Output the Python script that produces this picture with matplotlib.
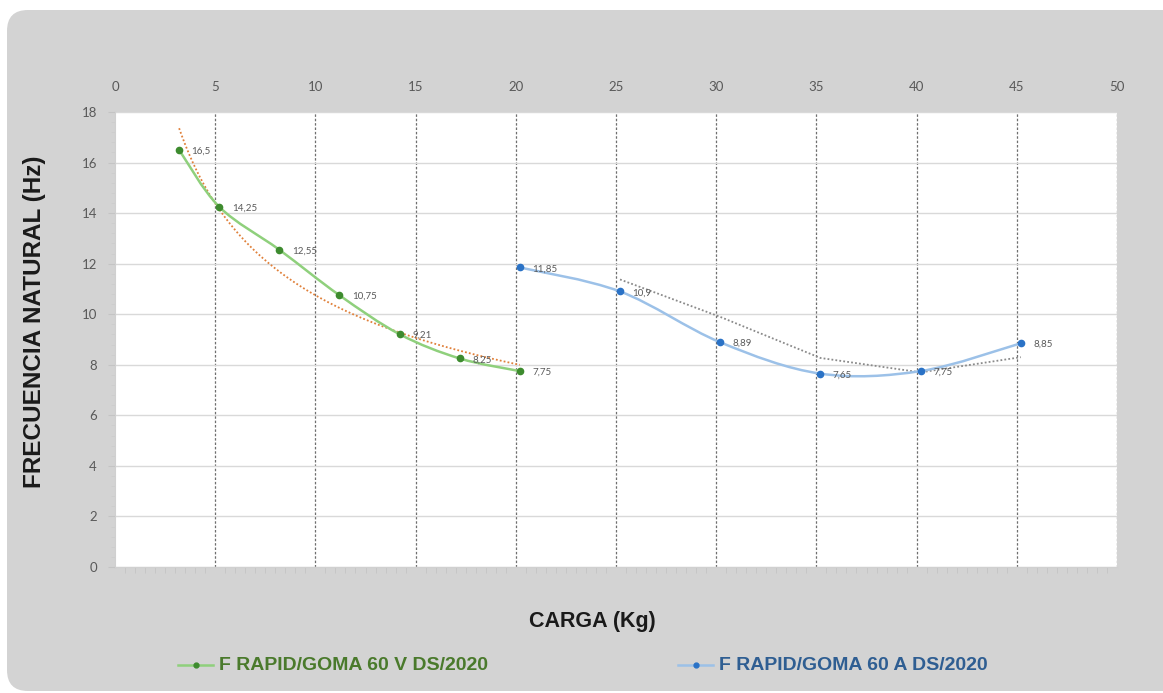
import numpy as np
import pandas as pd
from matplotlib import pyplot as plt
from matplotlib.patches import FancyBboxPatch
from matplotlib.path import Path
from matplotlib.patches import PathPatch
from matplotlib.ticker import MultipleLocator

# datos
carga_v = [3.2, 5.2, 8.2, 11.2, 14.2, 17.2, 20.2]
frec_v = [16.5, 14.25, 12.55, 10.75, 9.21, 8.25, 7.75]
etiq_v = ['16,5', '14,25', '12,55', '10,75', '9,21', '8,25', '7,75']

carga_a = [20.2, 25.2, 30.2, 35.2, 40.2, 45.2]
frec_a = [11.85, 10.9, 8.89, 7.65, 7.75, 8.85]
etiq_a = ['11,85', '10,9', '8,89', '7,65', '7,75', '8,85']

nombre_v = 'F RAPID/GOMA 60 V DS/2020'
nombre_a = 'F RAPID/GOMA 60 A DS/2020'


def smooth_path(xs, ys):
	# curva suavizada tipo excel (catmull-rom como bezier)
	pts = np.column_stack([xs, ys])
	n = len(pts)
	verts = [pts[0]]
	codes = [Path.MOVETO]
	for i in range(n - 1):
		p0 = pts[i - 1] if i > 0 else pts[i]
		p1 = pts[i]
		p2 = pts[i + 1]
		p3 = pts[i + 2] if i + 2 < n else pts[i + 1]
		c1 = p1 + (p2 - p0) / 6
		c2 = p2 - (p3 - p1) / 6
		verts += [c1, c2, p2]
		codes += [Path.CURVE4] * 3
	return Path(verts, codes)


fig = plt.figure(figsize=(11.63, 6.93), dpi=100)
fig.patch.set_facecolor('white')
panel = FancyBboxPatch((7 / 1163, 1 - 691 / 693), 1.2, 681 / 693,
					   boxstyle='round,pad=0,rounding_size=0.018',
					   transform=fig.transFigure, facecolor='#d3d3d3', edgecolor='none',
					   mutation_aspect=1163 / 693, zorder=-5)
fig.patches.append(panel)

ax = fig.add_axes([115 / 1163, 1 - 567 / 693, 1002 / 1163, 455 / 693])
ax.set_zorder(2)
ax.set_facecolor('white')
ax.set_xlim(0, 50)
ax.set_ylim(0, 18)

ax.xaxis.set_major_locator(MultipleLocator(5))
ax.xaxis.set_minor_locator(MultipleLocator(0.5))
ax.yaxis.set_major_locator(MultipleLocator(2))
ax.yaxis.set_minor_locator(MultipleLocator(0.4))
ax.tick_params(axis='x', which='major', top=True, labeltop=True, bottom=False, labelbottom=False,
			   length=0, pad=14, labelsize=9.5, labelcolor='#595959')
ax.tick_params(axis='x', which='minor', bottom=True, top=False, length=4, color='#c4c4c4')
ax.tick_params(axis='y', which='major', length=5, color='#c4c4c4', labelsize=9.5, labelcolor='#595959', pad=8)
ax.tick_params(axis='y', which='minor', length=3, color='#cccccc')
for lab in ax.get_xticklabels() + ax.get_yticklabels():
	lab.set_family('Lato')

for s in ['top', 'right']:
	ax.spines[s].set_visible(False)
for s in ['left', 'bottom']:
	ax.spines[s].set_color('#d0d0d0')

for gx in range(5, 51, 5):
	ax.axvline(gx, color='#6f6f6f', lw=0.9, ls=(0, (2, 1.5)), zorder=1)
ax.grid(axis='y', color='#d9d9d9', lw=1, zorder=0)

# series con curva suavizada
ax.add_patch(PathPatch(smooth_path(carga_v, frec_v), facecolor='none', edgecolor='#8fd07c', lw=1.8, zorder=3))
ax.add_patch(PathPatch(smooth_path(carga_a, frec_a), facecolor='none', edgecolor='#9cc1e8', lw=1.8, zorder=3))
ax.plot(carga_v, frec_v, 'o', color='#3d8b2e', ms=4.5, zorder=4)
ax.plot(carga_a, frec_a, 'o', color='#2a72c6', ms=4.5, zorder=4)

# tendencia potencial (serie V)
b, loga = np.polyfit(np.log(carga_v), np.log(frec_v), 1)
xt = np.linspace(carga_v[0], carga_v[-1], 200)
ax.plot(xt, np.exp(loga) * xt ** b, color='#e0803a', lw=1.3, ls=(0, (1, 1.2)), zorder=2)

# media movil 2 periodos (serie A)
mm = pd.Series(frec_a).rolling(2).mean()
ax.plot(carga_a[1:], mm[1:], color='#8a8a8a', lw=1.3, ls=(0, (1, 1.2)), zorder=2)

for x, y, t in zip(carga_v + carga_a, frec_v + frec_a, etiq_v + etiq_a):
	ax.annotate(t, (x, y), xytext=(9, -1), textcoords='offset points', va='center', ha='left',
				fontsize=7, color='#595959', family='Lato', zorder=5)

fig.text(592 / 1163, 1 - 621 / 693, 'CARGA (Kg)', ha='center', va='center', fontsize=15.5,
		 fontweight='bold', family='Liberation Sans', color='#1a1a1a')
fig.text(35 / 1163, 1 - 322 / 693, 'FRECUENCIA NATURAL (Hz)', ha='center', va='center', rotation=90,
		 fontsize=17.5, fontweight='bold', family='Liberation Sans', color='#1a1a1a')

# leyenda
ly = 1 - 665 / 693
fig.add_artist(plt.Line2D([178 / 1163, 213 / 1163], [ly, ly], color='#8fd07c', lw=1.8))
fig.add_artist(plt.Line2D([196 / 1163], [ly], marker='o', color='#3d8b2e', ms=3.5))
fig.text(219 / 1163, ly, nombre_v, ha='left', va='center', fontsize=14, fontweight='bold',
		 family='Liberation Sans', color='#4a7a2c')
fig.add_artist(plt.Line2D([678 / 1163, 713 / 1163], [ly, ly], color='#9cc1e8', lw=1.8))
fig.add_artist(plt.Line2D([696 / 1163], [ly], marker='o', color='#2a72c6', ms=3.5))
fig.text(719 / 1163, ly, nombre_a, ha='left', va='center', fontsize=14, fontweight='bold',
		 family='Liberation Sans', color='#2f5e92')

plt.savefig('out.png', dpi=100, facecolor=fig.get_facecolor())
